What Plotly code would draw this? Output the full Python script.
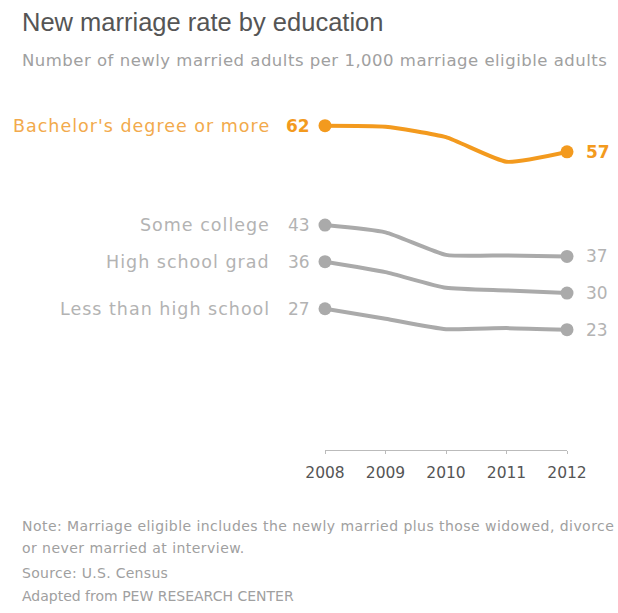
import plotly.graph_objects as go

years = [2008, 2009, 2010, 2011, 2012]
groups = ["Bachelor's degree or more", "Some college", "High school grad", "Less than high school"]
bachelor = [62, 61.8, 59.8, 55.1, 57]
some_college = [43, 41.6, 37.3, 37.2, 37]
hs_grad = [36, 34, 31, 30.5, 30]
less_hs = [27, 25.1, 23.1, 23.3, 23]
series = [bachelor, some_college, hs_grad, less_hs]

title = "New marriage rate by education"
subtitle = "Number of newly married adults per 1,000 marriage eligible adults"
note_lines = [
    "Note: Marriage eligible includes the newly married plus those widowed, divorce",
    "or never married at interview.",
    "Source: U.S. Census",
    "Adapted from PEW RESEARCH CENTER",
]

ORANGE = "#F39A1E"
ORANGE_LABEL = "#F2AA4C"
GRAY = "#AAAAAA"
GRAY_TEXT = "#B3B3B3"
BODY = "DejaVu Sans, Verdana, sans-serif"
HEAD = "Liberation Sans, Arial, sans-serif"

W, H = 618, 613
ML, MR, MT, MB = 325, 51, 110, 162.5
PW, PH = W - ML - MR, H - MT - MB


def px_x(x):
    return (x - ML) / PW


def px_y(y):
    return (H - MB - y) / PH


def spaced(text, px):
    return f'<span style="letter-spacing:{px}px">{text}</span>'


fig = go.Figure()
for name, vals in zip(groups, series):
    hi = name == groups[0]
    col = ORANGE if hi else GRAY
    fig.add_trace(go.Scatter(
        x=years, y=vals, mode="lines", name=name,
        line=dict(color=col, width=4, shape="spline", smoothing=0.5),
        hoverinfo="skip", cliponaxis=False,
    ))
    fig.add_trace(go.Scatter(
        x=[years[0], years[-1]], y=[vals[0], vals[-1]], mode="markers",
        marker=dict(color=col, size=13), hoverinfo="skip", cliponaxis=False,
    ))
    numcol = ORANGE if hi else GRAY_TEXT
    labcol = ORANGE_LABEL if hi else GRAY_TEXT
    start = f"<b>{vals[0]}</b>" if hi else str(vals[0])
    end = f"<b>{vals[-1]}</b>" if hi else str(vals[-1])
    fig.add_annotation(x=years[0], y=vals[0], text=start, showarrow=False,
                       xanchor="right", xshift=-13,
                       font=dict(size=17, color=numcol, family=BODY))
    fig.add_annotation(x=years[0], y=vals[0], text=spaced(name, 1.0), showarrow=False,
                       xanchor="right", xshift=-53,
                       font=dict(size=17.5, color=labcol, family=BODY))
    fig.add_annotation(x=years[-1], y=vals[-1], text=end, showarrow=False,
                       xanchor="left", xshift=17,
                       font=dict(size=17, color=numcol, family=BODY))

texts = [(title, 22, 25.5, "#555555", HEAD, 0),
         (subtitle, 60, 16.5, "#A0A0A0", BODY, 0.5)]
for line, ypix, ls in zip(note_lines, [527, 549, 574, 597], [0.45, 0.45, 0.3, 0]):
    texts.append((line, ypix, 14, "#A0A0A0", BODY, ls))

for text, ypix, size, col, fam, ls in texts:
    fig.add_annotation(xref="paper", yref="paper", x=px_x(20), y=px_y(ypix),
                       xanchor="left", yanchor="middle", align="left",
                       text=spaced(text, ls) if ls else text, showarrow=False,
                       font=dict(size=size, color=col, family=fam))

fig.update_layout(
    width=W, height=H,
    margin=dict(l=ML, r=MR, t=MT, b=MB),
    plot_bgcolor="white", paper_bgcolor="white",
    showlegend=False,
    xaxis=dict(range=[2008, 2012], tickvals=years, ticks="outside", ticklen=3,
               tickcolor="#BBBBBB", showline=True, linecolor="#BBBBBB", linewidth=1,
               showgrid=False, zeroline=False, ticklabelstandoff=5,
               tickfont=dict(size=15.5, color="#555555", family=BODY)),
    yaxis=dict(range=[0, 65], visible=False, showgrid=False, zeroline=False),
)

fig.write_html("out.html")
